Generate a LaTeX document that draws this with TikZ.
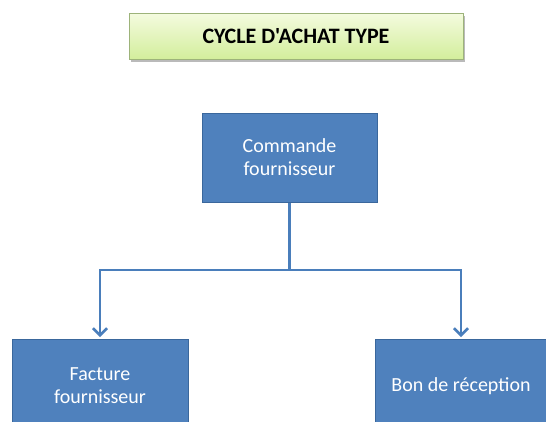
\documentclass[tikz,border=0pt]{standalone}
\usepackage{fontspec}
\setmainfont{Carlito}[Ligatures=TeXOff]
\usetikzlibrary{arrows.meta,shadows}
\definecolor{boxblue}{HTML}{4F81BD}
\definecolor{boxedge}{HTML}{3A679C}
\definecolor{linkblue}{HTML}{4A7EBB}
\definecolor{titletop}{HTML}{F4FBDF}
\definecolor{titlebot}{HTML}{D3EE9C}
\definecolor{titleedge}{HTML}{9DB37A}
\begin{document}
\begin{tikzpicture}[x=1pt,y=-1pt,
  stepbox/.style={draw=boxedge,line width=1pt,fill=boxblue,text=white,
    font=\fontsize{20}{23}\selectfont,align=center,inner sep=0pt},
  titlebox/.style={draw=titleedge,line width=0.8pt,top color=titletop,bottom color=titlebot,
    font=\bfseries\fontsize{22}{24}\selectfont,inner sep=0pt,
    drop shadow={shadow xshift=2pt,shadow yshift=-3pt,opacity=0.45,fill=black!60}},
  link/.style={draw=linkblue,line width=2.5pt},
  arrowlink/.style={link,-{Straight Barb[length=7pt,width=14pt,line width=2.5pt]},shorten >=2pt}]
  \clip (0,0) rectangle (546,421);
  \fill[white] (0,0) rectangle (546,421);

  % title banner
  \node[titlebox,minimum width=334pt,minimum height=46pt] (title) at (296,36) {CYCLE D'ACHAT TYPE};

  % documents of the purchase cycle
  \node[stepbox,minimum width=175pt,minimum height=89pt] (cmd) at (289.5,157.5) {Commande\\fournisseur};
  \node[stepbox,minimum width=176pt,minimum height=93pt] (fact) at (100,386) {Facture\\fournisseur};
  \node[stepbox,minimum width=172pt,minimum height=93pt] (bon) at (461,386) {Bon de réception};

  % branching connectors
  \coordinate (split) at (289.5,270);
  \draw[link] (cmd.south) -- (split);
  \draw[arrowlink] (split) -| (fact.north);
  \draw[arrowlink] (split) -| (bon.north);
\end{tikzpicture}
\end{document}
